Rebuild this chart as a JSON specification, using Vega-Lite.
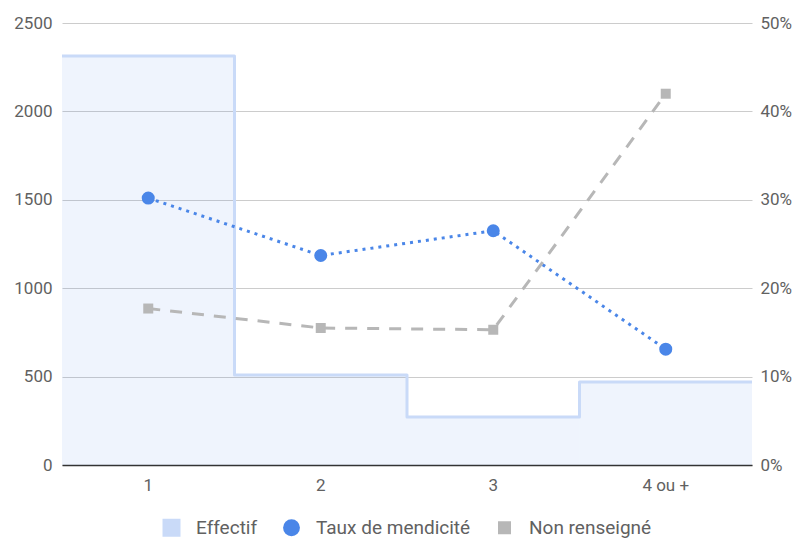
{
  "$schema": "https://vega.github.io/schema/vega-lite/v6.json",
  "width": 690,
  "height": 442,
  "autosize": "none",
  "padding": {"left": 62, "top": 23, "right": 47, "bottom": 74},
  "background": "white",
  "config": {
    "font": "Roboto",
    "view": {"stroke": null},
    "axis": {"labelFont": "Roboto", "labelFontSize": 17, "labelColor": "#616161", "ticks": false, "title": null}
  },
  "data": {
    "values": [
      {"rang": 1, "label": "1", "effectif": 2313, "taux": 0.302, "nonrens": 0.177},
      {"rang": 2, "label": "2", "effectif": 509, "taux": 0.237, "nonrens": 0.155},
      {"rang": 3, "label": "3", "effectif": 271, "taux": 0.265, "nonrens": 0.153},
      {"rang": 4, "label": "4 ou +", "effectif": 469, "taux": 0.131, "nonrens": 0.42}
    ]
  },
  "encoding": {
    "x": {
      "field": "label",
      "type": "ordinal",
      "sort": null,
      "scale": {"type": "band", "paddingInner": 0, "paddingOuter": 0},
      "axis": {"labelAngle": 0, "labelPadding": 12, "domainColor": "#333333", "domainWidth": 1.5, "grid": false}
    }
  },
  "layer": [
    {
      "encoding": {
        "y": {
          "field": "effectif",
          "type": "quantitative",
          "scale": {"domain": [0, 2500]},
          "axis": {"orient": "left", "values": [0, 500, 1000, 1500, 2000, 2500], "format": "d", "domain": false, "grid": true, "gridColor": "#cccccc", "gridWidth": 1, "labelPadding": 10}
        }
      },
      "layer": [
        {
          "mark": {"type": "area", "interpolate": "step-after", "fill": "#4a86e8", "fillOpacity": 0.09},
          "encoding": {"x": {"field": "label", "type": "ordinal", "sort": null, "bandPosition": 0}}
        },
        {
          "transform": [{"filter": "datum.rang >= 3"}],
          "mark": {"type": "area", "interpolate": "step-before", "fill": "#4a86e8", "fillOpacity": 0.09},
          "encoding": {"x": {"field": "label", "type": "ordinal", "sort": null, "bandPosition": 1}}
        },
        {
          "mark": {"type": "line", "interpolate": "step-after", "stroke": "#c9daf8", "strokeWidth": 3, "strokeJoin": "round"},
          "encoding": {"x": {"field": "label", "type": "ordinal", "sort": null, "bandPosition": 0}}
        },
        {
          "transform": [{"filter": "datum.rang >= 3"}],
          "mark": {"type": "line", "interpolate": "step-before", "stroke": "#c9daf8", "strokeWidth": 3, "strokeJoin": "round"},
          "encoding": {"x": {"field": "label", "type": "ordinal", "sort": null, "bandPosition": 1}}
        }
      ]
    },
    {
      "encoding": {
        "y": {
          "field": "taux",
          "type": "quantitative",
          "scale": {"domain": [0, 0.5]},
          "axis": {"orient": "right", "values": [0, 0.1, 0.2, 0.3, 0.4, 0.5], "format": ".0%", "domain": false, "grid": false, "labelPadding": 8}
        }
      },
      "layer": [
        {
          "mark": {"type": "line", "stroke": "#4a86e8", "strokeWidth": 3, "strokeDash": [3, 5]},
          "encoding": {}
        },
        {
          "mark": {"type": "line", "stroke": "#b7b7b7", "strokeWidth": 3, "strokeDash": [12, 10]},
          "encoding": {"y": {"field": "nonrens", "type": "quantitative"}}
        },
        {
          "mark": {"type": "point", "shape": "square", "filled": true, "size": 100, "opacity": 1},
          "encoding": {
            "y": {"field": "nonrens", "type": "quantitative"},
            "color": {"datum": "Non renseigné"}
          }
        },
        {
          "mark": {"type": "point", "shape": "circle", "filled": true, "size": 170, "opacity": 1},
          "encoding": {
            "color": {
              "datum": "Taux de mendicité",
              "scale": {"domain": ["Effectif", "Taux de mendicité", "Non renseigné"], "range": ["#c9daf8", "#4a86e8", "#b7b7b7"]},
              "legend": {
                "title": null,
                "orient": "none",
                "legendX": 100,
                "legendY": 495,
                "direction": "horizontal",
                "labelFont": "Roboto",
                "labelFontSize": 19,
                "labelColor": "#616161",
                "labelOffset": 15,
                "columnPadding": 24,
                "symbolOpacity": 1,
                "encode": {
                  "symbols": {
                    "update": {
                      "shape": {"signal": "datum.value === 'Taux de mendicité' ? 'circle' : 'square'"},
                      "size": {"signal": "datum.value === 'Effectif' ? 324 : (datum.value === 'Taux de mendicité' ? 284 : 169)"},
                      "strokeWidth": {"value": 0}
                    }
                  }
                }
              }
            }
          }
        }
      ]
    }
  ],
  "resolve": {"scale": {"y": "independent"}, "axis": {"y": "independent"}}
}
